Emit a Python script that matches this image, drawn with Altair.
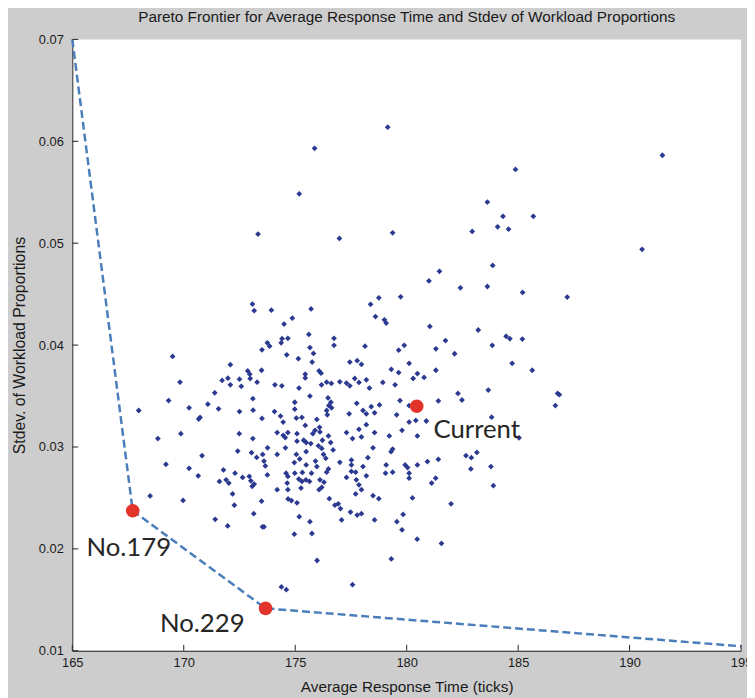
import altair as alt
import pandas as pd

# ---- scatter of candidate solutions: (average response time, stdev of workload proportions)
upper_left = [
    (173.08, 0.04403), (173.16, 0.04338), (173.93, 0.04342), (175.71, 0.04355), (174.87, 0.04264),
    (174.50, 0.04206), (174.41, 0.04063), (174.67, 0.04066), (174.37, 0.04022), (173.75, 0.04022),
    (173.85, 0.03989), (173.51, 0.03954), (175.61, 0.04105), (176.74, 0.04066), (176.74, 0.03998),
    (175.66, 0.03976), (175.82, 0.03918), (174.62, 0.03905), (175.14, 0.03866), (175.76, 0.03833),
    (169.50, 0.03889), (172.09, 0.03808), (172.87, 0.03746), (172.96, 0.03714), (173.49, 0.03753),
    (176.07, 0.03746), (176.16, 0.03724), (175.45, 0.03714), (175.45, 0.03678), (171.72, 0.03653),
    (171.98, 0.03675), (172.50, 0.03665), (172.98, 0.03672), (173.29, 0.03636), (172.09, 0.03610),
    (172.58, 0.03595), (174.09, 0.03610), (174.40, 0.03600), (175.17, 0.03578), (176.18, 0.03610),
    (176.41, 0.03636), (176.62, 0.03624), (169.83, 0.03636), (171.39, 0.03532), (175.66, 0.03500),
    (176.47, 0.03481), (176.60, 0.03439), (169.32, 0.03455), (170.24, 0.03384), (171.08, 0.03420),
    (171.56, 0.03374), (173.10, 0.03474), (173.11, 0.03361), (172.50, 0.03348), (174.07, 0.03348),
    (174.98, 0.03439), (174.98, 0.03371), (176.51, 0.03406), (176.41, 0.03358), (176.63, 0.03384),
    (170.67, 0.03274), (170.73, 0.03290), (173.51, 0.03280), (174.34, 0.03303), (174.46, 0.03245),
    (175.05, 0.03284), (175.30, 0.03290), (175.97, 0.03270), (176.44, 0.03316), (175.45, 0.03212),
    (176.09, 0.03193), (167.98, 0.03358),
]
lower_left = [
    (169.87, 0.03131), (168.84, 0.03083), (172.49, 0.03131), (173.10, 0.03083), (174.19, 0.03141),
    (174.46, 0.03115), (174.67, 0.03141), (174.55, 0.03092), (175.08, 0.03131), (175.08, 0.03057),
    (175.49, 0.03044), (175.38, 0.03066), (175.79, 0.03131), (175.89, 0.03163), (176.11, 0.03148),
    (176.49, 0.03109), (176.22, 0.03066), (176.59, 0.03044), (176.04, 0.03012), (175.70, 0.03034),
    (172.42, 0.02960), (170.82, 0.02915), (173.04, 0.02944), (173.27, 0.02898), (173.54, 0.02927),
    (173.76, 0.02992), (174.19, 0.02927), (174.56, 0.02992), (175.05, 0.02927), (175.49, 0.02954),
    (176.19, 0.02986), (176.27, 0.02927), (176.37, 0.02889), (173.60, 0.02862), (173.66, 0.02814),
    (174.96, 0.02847), (175.20, 0.02882), (175.49, 0.02824), (175.91, 0.02862), (175.97, 0.02808),
    (176.49, 0.02785), (169.20, 0.02830), (170.24, 0.02791), (171.78, 0.02775), (170.65, 0.02717),
    (172.30, 0.02743), (172.64, 0.02701), (172.94, 0.02711), (173.75, 0.02726), (174.59, 0.02743),
    (174.67, 0.02711), (174.98, 0.02743), (175.32, 0.02750), (175.73, 0.02743), (176.41, 0.02753),
    (171.60, 0.02662), (171.90, 0.02678), (172.02, 0.02646), (173.01, 0.02668), (173.16, 0.02636),
    (173.07, 0.02614), (175.16, 0.02685), (175.30, 0.02662), (175.48, 0.02678), (175.64, 0.02662),
    (176.11, 0.02678), (176.29, 0.02655), (174.64, 0.02646), (175.26, 0.02597), (176.19, 0.02604),
    (176.07, 0.02581), (172.19, 0.02539), (174.19, 0.02581), (174.67, 0.02581), (169.97, 0.02476),
    (172.27, 0.02429), (173.49, 0.02468), (174.68, 0.02490), (174.83, 0.02474), (175.08, 0.02452),
    (176.53, 0.02493), (176.78, 0.02429), (173.14, 0.02345), (171.41, 0.02290), (175.18, 0.02316),
    (175.66, 0.02267), (171.97, 0.02225), (173.53, 0.02216), (173.60, 0.02216), (174.96, 0.02144),
    (175.75, 0.02151), (175.98, 0.01886), (168.49, 0.02520), (174.38, 0.01626), (174.60, 0.01600),
]
upper_right = [
    (178.38, 0.04400), (178.60, 0.04280), (179.00, 0.04248), (179.08, 0.04216), (181.04, 0.04183),
    (183.21, 0.04148), (184.46, 0.04086), (184.63, 0.04063), (185.19, 0.04059), (178.13, 0.03989),
    (179.89, 0.03998), (179.64, 0.03950), (181.74, 0.04044), (181.31, 0.03963), (182.15, 0.03915),
    (183.84, 0.03998), (184.73, 0.03821), (177.45, 0.03833), (177.78, 0.03847), (177.97, 0.03811),
    (180.11, 0.03821), (179.31, 0.03762), (179.64, 0.03730), (180.48, 0.03721), (180.29, 0.03672),
    (180.78, 0.03682), (181.31, 0.03753), (177.00, 0.03639), (177.30, 0.03627), (177.45, 0.03600),
    (177.67, 0.03672), (177.86, 0.03633), (178.19, 0.03659), (178.33, 0.03578), (178.93, 0.03633),
    (179.48, 0.03610), (183.66, 0.03558), (182.30, 0.03526), (182.48, 0.03461), (181.42, 0.03452),
    (179.70, 0.03455), (180.11, 0.03406), (177.76, 0.03429), (178.41, 0.03396), (178.78, 0.03413),
    (177.42, 0.03325), (178.04, 0.03358), (178.19, 0.03325), (178.56, 0.03335), (179.55, 0.03316),
    (180.11, 0.03245), (180.41, 0.03260), (180.88, 0.03255), (183.81, 0.03293), (178.19, 0.03219),
    (186.77, 0.03526), (186.85, 0.03513), (186.67, 0.03406), (185.63, 0.03753),
]
lower_right = [
    (177.30, 0.03141), (177.86, 0.03173), (177.57, 0.03083), (177.97, 0.03099), (178.56, 0.03141),
    (179.22, 0.03109), (179.79, 0.03163), (180.48, 0.03109), (176.70, 0.02971), (178.49, 0.02992),
    (179.37, 0.02979), (179.30, 0.02954), (178.26, 0.02895), (177.00, 0.02850), (177.52, 0.02872),
    (177.52, 0.02824), (178.04, 0.02808), (179.08, 0.02824), (179.93, 0.02824), (180.04, 0.02798),
    (180.48, 0.02824), (180.93, 0.02857), (181.42, 0.02879), (182.66, 0.02915), (182.90, 0.02895),
    (183.15, 0.02947), (182.88, 0.02785), (183.78, 0.02808), (185.04, 0.03090), (177.52, 0.02760),
    (177.71, 0.02753), (177.30, 0.02701), (178.19, 0.02717), (179.05, 0.02743), (179.37, 0.02753),
    (180.11, 0.02743), (180.11, 0.02694), (177.74, 0.02678), (181.30, 0.02694), (181.12, 0.02646),
    (177.86, 0.02629), (177.97, 0.02581), (177.71, 0.02539), (183.89, 0.02620), (178.49, 0.02522),
    (178.75, 0.02493), (180.26, 0.02500), (176.93, 0.02442), (177.03, 0.02396), (177.08, 0.02284),
    (177.48, 0.02361), (177.78, 0.02332), (177.97, 0.02345), (178.56, 0.02284), (179.84, 0.02338),
    (179.56, 0.02267), (179.79, 0.02187), (181.99, 0.02442), (180.47, 0.02095), (181.56, 0.02053),
    (179.31, 0.01901), (177.57, 0.01649),
]
outliers = [
    (191.47, 0.05863), (184.88, 0.05724), (184.32, 0.05264), (185.68, 0.05264), (184.08, 0.05161),
    (184.57, 0.05138), (190.56, 0.04940), (185.20, 0.04517), (187.20, 0.04471),
    (179.15, 0.06138), (175.87, 0.05931), (175.18, 0.05484), (173.33, 0.05090), (176.98, 0.05047),
    (179.37, 0.05102), (183.62, 0.05403), (182.94, 0.05115), (183.86, 0.04782), (181.47, 0.04724),
    (181.00, 0.04630), (182.41, 0.04562), (183.62, 0.04575), (178.75, 0.04464), (179.73, 0.04474),
]

# ---- Pareto frontier and highlighted solutions
frontier_time = [165.0, 167.71, 173.67, 195.0]
frontier_stdev = [0.0700, 0.02374, 0.01416, 0.01044]

label_names = ["Current", "No.179", "No.229"]
label_time = [180.45, 167.71, 173.67]
label_stdev = [0.0340, 0.02374, 0.01416]

x_ticks = [165, 170, 175, 180, 185, 190, 195]
y_ticks = [0.01, 0.02, 0.03, 0.04, 0.05, 0.06, 0.07]

# ---- tables
all_pts = upper_left + lower_left + upper_right + lower_right + outliers
pts = pd.DataFrame(all_pts, columns=["x", "y"])
front = pd.DataFrame({"x": frontier_time, "y": frontier_stdev, "i": list(range(len(frontier_time)))})
labels = pd.DataFrame({"name": label_names, "x": label_time, "y": label_stdev})
xt = pd.DataFrame({"x": x_ticks})
yt = pd.DataFrame({"y": y_ticks})

W, H = 676, 618
AX_FONT = "Liberation Sans"
xs = alt.Scale(domain=[165, 195], nice=False, zero=False)
ys = alt.Scale(domain=[0.01, 0.07], nice=False, zero=False)

x_axis = alt.Axis(values=x_ticks, format="d", ticks=False, grid=False, labelFlush=False,
                  labelOverlap=False, labelPadding=6, labelFont=AX_FONT, labelFontSize=13,
                  labelColor="#1a1a1a", domainColor="#222222", domainWidth=1,
                  title="Average Response Time (ticks)", titleFont=AX_FONT, titleFontSize=15.5,
                  titleFontWeight="normal", titleColor="#1a1a1a", titleX=W / 2, titleY=36,
                  titleAlign="center", titleBaseline="middle")
y_axis = alt.Axis(values=y_ticks, format=".2f", ticks=False, grid=False, labelFlush=False,
                  labelOverlap=False, labelPadding=9, labelFont=AX_FONT, labelFontSize=13,
                  labelColor="#1a1a1a", domainColor="#222222", domainWidth=1,
                  title="Stdev. of Workload Proportions", titleFont=AX_FONT, titleFontSize=16,
                  titleFontWeight="normal", titleColor="#1a1a1a", titleX=-53, titleY=H / 2,
                  titleAngle=270, titleAlign="center", titleBaseline="middle")

X = alt.X("x:Q", scale=xs, axis=x_axis)
Y = alt.Y("y:Q", scale=ys, axis=y_axis)

scatter = alt.Chart(pts).mark_point(shape="diamond", filled=True, size=34, color="#2b3990",
                                     opacity=1).encode(x=X, y=Y)

frontier = alt.Chart(front).mark_line(strokeDash=[8, 4], strokeWidth=2.5, color="#4a7ebb").encode(
    x=X, y=Y, order="i:Q")

red = alt.Chart(labels).mark_circle(size=190, color="#e3342b", opacity=1).encode(x=X, y=Y)

TXT_FONT = "Lato"
def label_layer(name, align, dx, dy):
    return alt.Chart(labels).transform_filter(alt.datum.name == name).mark_text(
        align=align, baseline="middle", dx=dx, dy=dy, font=TXT_FONT, fontSize=26,
        color="#262626").encode(x=X, y=Y, text="name:N")

t_cur = label_layer("Current", "left", 17, 24)
t_179 = label_layer("No.179", "center", -4, 38)
t_229 = label_layer("No.229", "center", -64, 16)

x_tickmarks = alt.Chart(xt).mark_rule(color="#222222", strokeWidth=1).encode(
    x=X, y=alt.value(H), y2=alt.value(H - 6))
y_tickmarks = alt.Chart(yt).mark_rule(color="#222222", strokeWidth=1).encode(
    y=Y, x=alt.value(0), x2=alt.value(6))

chart = alt.layer(scatter, frontier, red, t_cur, t_179, t_229, x_tickmarks, y_tickmarks).properties(
    width=W, height=H,
    title=alt.TitleParams("Pareto Frontier for Average Response Time and Stdev of Workload Proportions",
                          font=AX_FONT, fontSize=15.5, fontWeight="normal", color="#1a1a1a",
                          anchor="middle", offset=8),
    background="#cdcdcd",
    padding={"left": 65, "top": 28, "right": 6, "bottom": 44},
    autosize=alt.AutoSizeParams(type="none"),
).configure_view(fill="white", strokeWidth=0)

chart.save("out.html", embed_options={"renderer": "svg", "actions": False})
